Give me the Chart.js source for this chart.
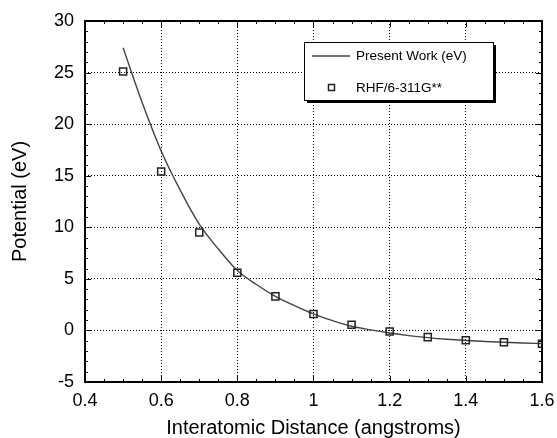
<!DOCTYPE html>
<html>
<head>
<meta charset="utf-8">
<script src="https://cdn.jsdelivr.net/npm/chart.js@4/dist/chart.umd.min.js"></script>
<style>
  html, body { margin: 0; padding: 0; background: #fff; }
  #wrap { width: 557px; height: 438px; }
</style>
</head>
<body>
<div id="wrap"><canvas id="c" width="557" height="438"></canvas></div>
<script>
// ---- data ----
const curveX = [0.5, 0.55, 0.6, 0.65, 0.7, 0.75, 0.8, 0.85, 0.9, 0.95, 1.0, 1.05, 1.1, 1.15, 1.2, 1.25, 1.3, 1.35, 1.4, 1.45, 1.5, 1.55, 1.6];
const curveY = [27.4, 22.1, 17.4, 13.6, 10.3, 7.9, 5.8, 4.45, 3.3, 2.4, 1.6, 0.95, 0.4, 0.05, -0.25, -0.5, -0.7, -0.86, -0.98, -1.07, -1.15, -1.22, -1.27];
const rhfX = [0.5, 0.6, 0.7, 0.8, 0.9, 1.0, 1.1, 1.2, 1.3, 1.4, 1.5, 1.6];
const rhfY = [25.1, 15.4, 9.5, 5.6, 3.3, 1.6, 0.55, -0.1, -0.65, -0.95, -1.15, -1.3];
const xTickLabels = ['0.4', '0.6', '0.8', '1', '1.2', '1.4', '1.6'];
const yTickLabels = ['-5', '0', '5', '10', '15', '20', '25', '30'];
const seriesNames = ['Present Work (eV)', 'RHF/6-311G**'];
const xTitle = 'Interatomic Distance (angstroms)';
const yTitle = 'Potential (eV)';

const FONT = '"Liberation Sans", Arial, sans-serif';

const frameAndTicks = {
  id: 'frameAndTicks',
  beforeDatasetsDraw(chart) {
    const ctx = chart.ctx;
    const { left, right, top, bottom } = chart.chartArea;
    const xs = chart.scales.x, ys = chart.scales.y;
    ctx.save();
    ctx.strokeStyle = '#000';
    ctx.lineWidth = 1;
    const seg = (x1, y1, x2, y2) => { ctx.beginPath(); ctx.moveTo(x1, y1); ctx.lineTo(x2, y2); ctx.stroke(); };
    const xt = xs.ticks.map(t => t.value);
    for (let i = 0; i < xt.length; i++) {
      const px = Math.round(xs.getPixelForValue(xt[i])) + 0.5;
      seg(px, bottom, px, bottom - 6); seg(px, top, px, top + 6);
      if (i < xt.length - 1) {
        for (let k = 1; k < 4; k++) {
          const m = Math.round(xs.getPixelForValue(xt[i] + (xt[i + 1] - xt[i]) * k / 4)) + 0.5;
          seg(m, bottom, m, bottom - 3); seg(m, top, m, top + 3);
        }
      }
    }
    const yt = ys.ticks.map(t => t.value);
    for (let i = 0; i < yt.length; i++) {
      const py = Math.round(ys.getPixelForValue(yt[i])) + 0.5;
      seg(left, py, left + 6, py); seg(right, py, right - 6, py);
      if (i < yt.length - 1) {
        for (let k = 1; k < 5; k++) {
          const m = Math.round(ys.getPixelForValue(yt[i] + (yt[i + 1] - yt[i]) * k / 5)) + 0.5;
          seg(left, m, left + 3, m); seg(right, m, right - 3, m);
        }
      }
    }
    ctx.lineWidth = 2;
    ctx.strokeRect(left, top, right - left, bottom - top);
    ctx.restore();
  }
};

const boxLegend = {
  id: 'boxLegend',
  afterDraw(chart) {
    const ctx = chart.ctx;
    const bx = 304, by = 42, bw = 189, bh = 58;
    ctx.save();
    ctx.fillStyle = '#000';
    ctx.fillRect(bx + 3, by + 3, bw, bh);
    ctx.fillStyle = '#fff';
    ctx.fillRect(bx, by, bw, bh);
    ctx.strokeStyle = '#000';
    ctx.lineWidth = 1;
    ctx.strokeRect(bx + 0.5, by + 0.5, bw, bh);
    // line sample
    ctx.strokeStyle = '#444';
    ctx.lineWidth = 1.3;
    ctx.beginPath(); ctx.moveTo(312, 56); ctx.lineTo(350, 56); ctx.stroke();
    // square sample
    ctx.strokeStyle = '#222';
    ctx.lineWidth = 1.5;
    ctx.strokeRect(328.5, 84.5, 6, 6);
    ctx.fillStyle = '#000';
    ctx.font = '13.5px ' + FONT;
    ctx.textBaseline = 'middle';
    ctx.textAlign = 'left';
    ctx.fillText(seriesNames[0], 356, 56);
    ctx.fillText(seriesNames[1], 356, 88);
    ctx.restore();
  }
};

new Chart(document.getElementById('c'), {
  type: 'scatter',
  data: {
    datasets: [
      {
        label: seriesNames[0],
        data: curveX.map((x, i) => ({ x, y: curveY[i] })),
        showLine: true,
        borderColor: '#444',
        borderWidth: 1.4,
        pointRadius: 0,
        cubicInterpolationMode: 'monotone',
        fill: false,
        order: 2
      },
      {
        label: seriesNames[1],
        data: rhfX.map((x, i) => ({ x, y: rhfY[i] })),
        showLine: false,
        pointStyle: 'rect',
        pointRadius: 5,
        pointBorderColor: '#222',
        pointBackgroundColor: 'rgba(255,255,255,0)',
        pointBorderWidth: 1.5,
        order: 1
      }
    ]
  },
  options: {
    responsive: false,
    animation: false,
    devicePixelRatio: 1,
    layout: { padding: { top: 21, right: 15, left: 0, bottom: 0 } },
    plugins: { legend: { display: false }, tooltip: { enabled: false } },
    scales: {
      x: {
        type: 'linear',
        min: 0.4, max: 1.6,
        afterBuildTicks(scale) {
          scale.ticks = xTickLabels.map(l => ({ value: parseFloat(l) }));
        },
        ticks: {
          callback: (v, i) => xTickLabels[i],
          color: '#000',
          font: { family: FONT, size: 18 },
          padding: 8,
          maxRotation: 0
        },
        grid: { color: '#000', lineWidth: 1, drawTicks: false },
        border: { display: false, dash: [1, 2] },
        title: {
          display: true, text: xTitle, color: '#000',
          font: { family: FONT, size: 20, lineHeight: 1 },
          padding: { top: 0, bottom: 0 }
        },
        afterFit(scale) { scale.height = 56; scale.paddingRight = 0; scale.paddingLeft = 0; }
      },
      y: {
        type: 'linear',
        min: -5, max: 30,
        afterBuildTicks(scale) {
          scale.ticks = yTickLabels.map(l => ({ value: parseFloat(l) }));
        },
        ticks: {
          callback: (v, i) => yTickLabels[i],
          color: '#000',
          font: { family: FONT, size: 18 },
          padding: 11
        },
        grid: { color: '#000', lineWidth: 1, drawTicks: false },
        border: { display: false, dash: [1, 2] },
        title: {
          display: true, text: yTitle, color: '#000',
          font: { family: FONT, size: 20, lineHeight: 1 },
          padding: { top: 10, bottom: 0 }
        },
        afterFit(scale) { scale.width = 85; scale.paddingTop = 0; scale.paddingBottom = 0; }
      }
    }
  },
  plugins: [frameAndTicks, boxLegend]
});
</script>
</body>
</html>
